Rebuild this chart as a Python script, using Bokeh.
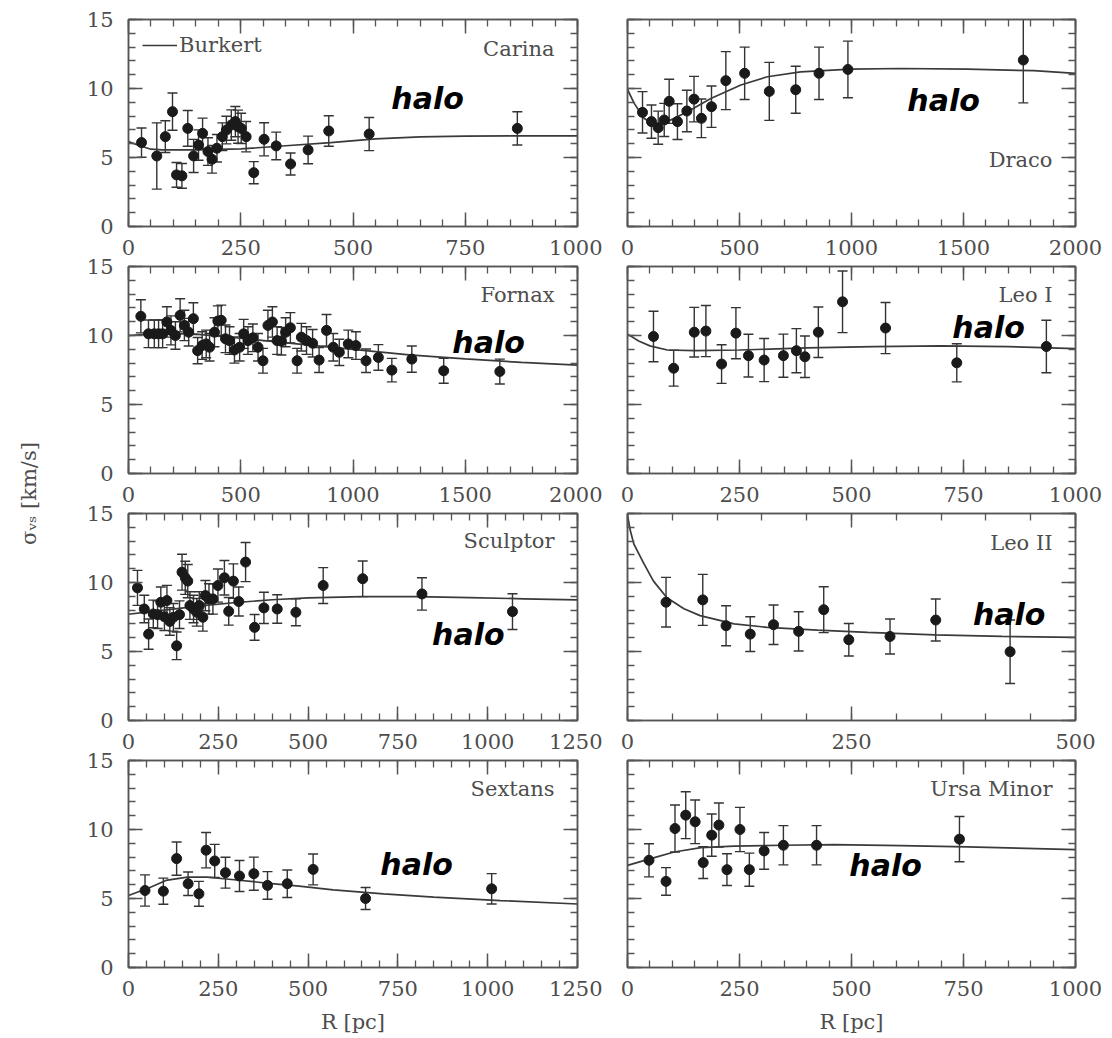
import math
from bokeh.plotting import figure
from bokeh.layouts import row, column
from bokeh.models import (Range1d, LinearAxis, SingleIntervalTicker, Whisker, ColumnDataSource,
                          Label, TeeHead, Legend, LegendItem, CustomLabelingPolicy)
from bokeh.embed import file_html
from bokeh.resources import INLINE

# ---------------- data ----------------
carina_r = [29, 63, 82, 98, 107, 119, 132, 145, 156, 165, 177, 186, 197, 209, 218, 229, 238, 244, 251, 262, 279, 302, 329, 361, 400, 446, 536, 866]
carina_s = [6.08, 5.11, 6.51, 8.32, 3.74, 3.67, 7.11, 5.11, 5.9, 6.75, 5.43, 4.87, 5.67, 6.51, 6.99, 7.35, 7.6, 7.23, 7.11, 6.51, 3.9, 6.32, 5.84, 4.53, 5.55, 6.92, 6.70, 7.11]
carina_e = [1.06, 2.4, 1.15, 1.35, 0.9, 0.9, 1.3, 1.2, 1.1, 1.1, 1.0, 1.0, 1.0, 1.0, 1.0, 1.1, 1.1, 1.2, 1.1, 1.1, 0.8, 1.2, 1.0, 0.8, 1.0, 1.1, 1.2, 1.2]
carina_fit_r = [0, 25, 50, 75, 150, 250, 350, 450, 550, 650, 750, 850, 1000]
carina_fit_s = [6.15, 5.85, 5.6, 5.55, 5.55, 5.62, 5.85, 6.08, 6.35, 6.5, 6.55, 6.56, 6.56]

draco_r = [67, 107, 137, 164, 186, 223, 265, 297, 330, 375, 439, 523, 633, 751, 855, 984, 1767]
draco_s = [8.27, 7.6, 7.16, 7.72, 9.07, 7.6, 8.37, 9.23, 7.84, 8.68, 10.57, 11.1, 9.79, 9.91, 11.1, 11.38, 12.06]
draco_e = [1.5, 1.2, 1.2, 1.2, 1.6, 1.3, 1.5, 1.65, 1.4, 1.5, 2.1, 1.9, 2.1, 1.7, 1.9, 2.05, 3.1]
draco_fit_r = [0, 30, 74, 119, 178, 268, 372, 506, 625, 773, 996, 1219, 1517, 1814, 2000]
draco_fit_s = [9.93, 8.92, 7.84, 7.35, 7.6, 8.32, 9.28, 10.25, 10.85, 11.2, 11.4, 11.45, 11.4, 11.29, 11.09]

fornax_r = [55, 89, 115, 134, 152, 171, 189, 209, 230, 249, 268, 289, 308, 328, 346, 361, 383, 398, 413, 432, 450, 472, 495, 513, 532, 554, 577, 599, 621, 641, 662, 681, 700, 721, 751, 770, 793, 820, 849, 882, 912, 939, 979, 1013, 1058, 1113, 1173, 1262, 1404, 1654]
fornax_s = [11.39, 10.12, 10.12, 10.12, 10.12, 10.98, 10.37, 10.0, 11.46, 10.73, 10.24, 11.22, 8.9, 9.27, 9.39, 9.15, 10.24, 11.05, 11.1, 9.76, 9.63, 8.95, 9.15, 10.12, 9.63, 9.83, 9.15, 8.17, 10.73, 10.98, 9.63, 9.59, 10.24, 10.56, 8.17, 9.88, 9.63, 9.44, 8.22, 10.37, 9.15, 8.78, 9.39, 9.27, 8.17, 8.41, 7.49, 8.29, 7.44, 7.39]
fornax_e = [1.2, 1.0, 1.0, 1.0, 1.0, 1.1, 1.05, 1.0, 1.2, 1.1, 1.0, 1.15, 0.95, 1.0, 1.0, 1.0, 1.05, 1.1, 1.1, 1.0, 1.0, 0.95, 1.0, 1.05, 1.0, 1.0, 1.0, 0.9, 1.1, 1.1, 1.0, 1.0, 1.05, 1.1, 0.9, 1.0, 1.0, 1.0, 0.9, 1.15, 1.0, 0.95, 1.0, 1.0, 0.85, 0.93, 0.85, 0.95, 0.9, 0.9]
fornax_fit_r = [0, 150, 300, 500, 750, 1000, 1250, 1500, 1750, 2000]
fornax_fit_s = [10.0, 10.15, 10.1, 9.8, 9.4, 9.0, 8.6, 8.3, 8.05, 7.85]

leo1_r = [58, 103, 149, 175, 210, 242, 270, 305, 348, 377, 396, 426, 480, 576, 735, 935]
leo1_s = [9.93, 7.63, 10.24, 10.32, 7.93, 10.17, 8.54, 8.22, 8.54, 8.9, 8.46, 10.24, 12.44, 10.54, 8.02, 9.2]
leo1_e = [1.83, 1.3, 1.8, 1.85, 1.4, 1.85, 1.55, 1.56, 1.56, 1.6, 1.5, 1.83, 2.23, 1.85, 1.38, 1.9]
leo1_fit_r = [0, 25, 50, 89, 150, 250, 400, 550, 700, 850, 1000]
leo1_fit_s = [10.1, 9.6, 9.25, 8.95, 8.9, 8.95, 9.1, 9.2, 9.25, 9.2, 9.05]

sculptor_r = [25, 44, 56, 69, 81, 90, 100, 107, 115, 125, 134, 142, 149, 158, 165, 171, 181, 190, 197, 207, 214, 224, 235, 249, 267, 279, 292, 307, 326, 351, 377, 414, 466, 542, 652, 817, 1069]
sculptor_s = [9.61, 8.08, 6.26, 7.72, 7.67, 8.57, 7.52, 8.69, 7.18, 7.48, 5.41, 7.67, 10.75, 10.34, 10.1, 8.33, 8.08, 7.84, 8.33, 7.48, 9.05, 8.81, 8.81, 9.78, 10.34, 7.91, 10.1, 8.62, 11.48, 6.75, 8.16, 8.08, 7.84, 9.78, 10.27, 9.17, 7.89]
sculptor_e = [1.27, 1.0, 1.1, 1.0, 1.0, 1.1, 1.0, 1.1, 1.0, 1.0, 1.0, 1.0, 1.3, 1.2, 1.2, 1.0, 1.0, 1.0, 1.0, 1.0, 1.1, 1.1, 1.1, 1.2, 1.25, 1.0, 1.25, 1.05, 1.42, 0.93, 1.13, 1.03, 0.97, 1.3, 1.29, 1.17, 1.3]
sculptor_fit_r = [0, 50, 100, 200, 300, 400, 500, 650, 800, 950, 1100, 1250]
sculptor_fit_s = [7.7, 7.85, 8.0, 8.3, 8.55, 8.75, 8.88, 8.98, 8.98, 8.9, 8.82, 8.74]

leo2_r = [43, 84, 110, 137, 163, 191, 219, 247, 293, 344, 427]
leo2_s = [8.57, 8.74, 6.87, 6.26, 6.94, 6.46, 8.03, 5.85, 6.09, 7.28, 4.98]
leo2_e = [1.8, 1.85, 1.45, 1.26, 1.43, 1.42, 1.66, 1.18, 1.27, 1.52, 2.3]
leo2_fit_r = [0, 3, 7, 18, 29, 44, 63, 81, 119, 156, 212, 268, 343, 418, 500]
leo2_fit_s = [14.9, 13.8, 12.8, 11.4, 10.1, 8.9, 8.1, 7.6, 7.0, 6.75, 6.55, 6.38, 6.21, 6.09, 6.02]

sextans_r = [46, 97, 134, 166, 196, 216, 240, 270, 309, 349, 387, 442, 514, 660, 1011]
sextans_s = [5.58, 5.53, 7.89, 6.07, 5.34, 8.5, 7.72, 6.87, 6.63, 6.8, 5.95, 6.07, 7.11, 5.0, 5.7]
sextans_e = [1.13, 0.95, 1.2, 0.85, 0.9, 1.28, 1.2, 1.12, 1.12, 1.2, 1.0, 1.0, 1.12, 0.8, 1.1]
sextans_fit_r = [0, 58, 104, 164, 220, 294, 384, 475, 570, 710, 850, 1036, 1250]
sextans_fit_s = [5.22, 5.78, 6.31, 6.55, 6.55, 6.36, 6.12, 5.9, 5.63, 5.34, 5.1, 4.85, 4.6]

umi_r = [48, 86, 106, 130, 151, 169, 188, 204, 222, 251, 272, 305, 348, 422, 741]
umi_s = [7.77, 6.24, 10.07, 11.04, 10.56, 7.6, 9.59, 10.32, 7.09, 10.0, 7.09, 8.45, 8.86, 8.86, 9.3]
umi_e = [1.2, 1.0, 1.7, 1.7, 1.58, 1.15, 1.53, 1.6, 1.15, 1.6, 1.2, 1.33, 1.42, 1.42, 1.64]
umi_fit_r = [0, 52, 104, 164, 238, 349, 461, 610, 758, 1000]
umi_fit_s = [7.4, 7.89, 8.37, 8.69, 8.79, 8.86, 8.91, 8.83, 8.74, 8.54]

galaxy_names = ["Carina", "Draco", "Fornax", "Leo I", "Sculptor", "Leo II", "Sextans", "Ursa Minor"]
x_max = [1000, 2000, 2000, 1000, 1250, 500, 1250, 1000]
x_step = [250, 500, 500, 250, 250, 250, 250, 250]
y_max = 15
y_step = 5
halo_label = "halo"
fit_label = "Burkert"
y_label = "σᵥₛ [km/s]"
x_label = "R [pc]"

datasets = [
    (carina_r, carina_s, carina_e, carina_fit_r, carina_fit_s),
    (draco_r, draco_s, draco_e, draco_fit_r, draco_fit_s),
    (fornax_r, fornax_s, fornax_e, fornax_fit_r, fornax_fit_s),
    (leo1_r, leo1_s, leo1_e, leo1_fit_r, leo1_fit_s),
    (sculptor_r, sculptor_s, sculptor_e, sculptor_fit_r, sculptor_fit_s),
    (leo2_r, leo2_s, leo2_e, leo2_fit_r, leo2_fit_s),
    (sextans_r, sextans_s, sextans_e, sextans_fit_r, sextans_fit_s),
    (umi_r, umi_s, umi_e, umi_fit_r, umi_fit_s),
]

# ---------------- placement (layout only) ----------------
name_y = [12.83, 4.82, 12.9, 12.9, 13.04, 12.83, 12.97, 12.97]
halo_pos = [(666, 9.28), (1411, 9.13), (1604, 9.5), (806, 10.58),
            (946, 6.23), (426, 7.68), (802, 7.46), (576, 7.39)]

FRAME = "#555555"
TXT = "#4d4d4d"
INK = "#1a1a1a"
SERIF = "DejaVu Serif"
FS = "21px"
FH = 207
NO_LABELS = "for (let i = 0; i < indices.size; i++) { indices.unset(i) }\nreturn indices"


def style_axis(ax, interval, show_labels):
    ax.ticker = SingleIntervalTicker(interval=interval, num_minor_ticks=5)
    ax.major_tick_in = 14
    ax.major_tick_out = 0
    ax.minor_tick_in = 7
    ax.minor_tick_out = 0
    ax.axis_line_color = FRAME
    ax.axis_line_width = 1.5
    ax.major_tick_line_color = FRAME
    ax.major_tick_line_width = 1.5
    ax.minor_tick_line_color = FRAME
    ax.minor_tick_line_width = 1.3
    ax.major_label_text_font = SERIF
    ax.major_label_text_color = TXT
    if show_labels:
        ax.major_label_text_font_size = FS
    else:
        ax.major_label_text_font_size = "0px"
        ax.major_label_standoff = 0
        ax.major_label_policy = CustomLabelingPolicy(code=NO_LABELS)


def make_panel(i):
    col = i % 2
    rw = i // 2
    r, s, e, fr, fs = datasets[i]
    xmax = x_max[i]
    if col == 0:
        fw, bl, br = 449, 9, 25
    else:
        fw, bl, br = 448, 25, 37
    bt = 19 if rw == 0 else 2
    bb = 71 if rw == 3 else 38
    p = figure(title=None, frame_width=fw, frame_height=FH,
               x_range=Range1d(0, xmax), y_range=Range1d(0, y_max),
               x_axis_type=None, y_axis_type=None,
               toolbar_location=None, output_backend="svg",
               min_border_left=bl, min_border_right=br,
               min_border_top=bt, min_border_bottom=bb)
    p.outline_line_color = FRAME
    p.outline_line_width = 1.5
    p.background_fill_color = "white"
    p.border_fill_color = "white"

    bottom = LinearAxis()
    style_axis(bottom, x_step[i], True)
    bottom.major_label_standoff = 13
    if rw == 3:
        bottom.axis_label = x_label
        bottom.axis_label_text_font = SERIF
        bottom.axis_label_text_font_size = FS
        bottom.axis_label_text_font_style = "normal"
        bottom.axis_label_text_color = TXT
        bottom.axis_label_standoff = 11
    p.add_layout(bottom, "below")
    top = LinearAxis()
    style_axis(top, x_step[i], False)
    p.add_layout(top, "above")
    left = LinearAxis()
    style_axis(left, y_step, False)
    p.add_layout(left, "left")
    right = LinearAxis()
    style_axis(right, y_step, False)
    p.add_layout(right, "right")

    lo = [a - b for a, b in zip(s, e)]
    hi = [a + b for a, b in zip(s, e)]
    src = ColumnDataSource(dict(r=r, s=s, lo=lo, hi=hi))

    fit = p.line(fr, fs, line_color="#3a3a3a", line_width=1.7)

    w = Whisker(source=src, base="r", upper="hi", lower="lo",
                line_color="#333333", line_width=1.4,
                upper_head=TeeHead(size=10, line_color="#333333", line_width=1.4),
                lower_head=TeeHead(size=10, line_color="#333333", line_width=1.4))
    p.add_layout(w)
    p.scatter("r", "s", source=src, size=10, fill_color=INK, line_color=INK, marker="circle")

    p.add_layout(Label(x=xmax, y=name_y[i], x_offset=-23, text=galaxy_names[i],
                       text_align="right", text_baseline="middle",
                       text_font=SERIF, text_font_size=FS, text_color=TXT))
    hx, hy = halo_pos[i]
    p.add_layout(Label(x=hx, y=hy, text=halo_label, text_align="center", text_baseline="middle",
                       text_font="DejaVu Sans", text_font_style="bold italic",
                       text_font_size="30px", text_color="black"))

    if i == 0:
        leg = Legend(items=[LegendItem(label=fit_label, renderers=[fit])],
                     location="top_left", margin=14, padding=0, spacing=0,
                     glyph_width=35, glyph_height=20, label_standoff=2,
                     label_text_font=SERIF, label_text_font_size=FS, label_text_color=TXT,
                     border_line_color=None, background_fill_alpha=0)
        p.add_layout(leg)
    return p


def make_yaxis(rw):
    # narrow strip holding only the y tick labels of one row (frame aligned with the panels)
    bt = 19 if rw == 0 else 20
    bb = 71 if rw == 3 else 20
    f = figure(title=None, frame_width=1, frame_height=FH, x_range=Range1d(0, 1), y_range=Range1d(0, y_max),
               x_axis_type=None, y_axis_type=None, toolbar_location=None, output_backend="svg",
               min_border_left=58, min_border_right=0, min_border_top=bt, min_border_bottom=bb)
    f.outline_line_color = None
    ax = LinearAxis()
    ax.ticker = SingleIntervalTicker(interval=y_step, num_minor_ticks=5)
    ax.axis_line_color = None
    ax.major_tick_line_color = None
    ax.minor_tick_line_color = None
    ax.major_tick_out = 0
    ax.minor_tick_out = 0
    ax.major_label_standoff = 5
    ax.major_label_text_font = SERIF
    ax.major_label_text_font_size = FS
    ax.major_label_text_color = TXT
    f.add_layout(ax, "left")
    return f


panels = [make_panel(i) for i in range(8)]
yaxes = [make_yaxis(k) for k in range(4)]

lab = figure(title=None, width=60, height=1038, x_range=Range1d(0, 1), y_range=Range1d(0, 1),
             x_axis_type=None, y_axis_type=None, toolbar_location=None,
             output_backend="svg", min_border=0)
lab.outline_line_color = None
lab.add_layout(Label(x=28, y=1038 - 493, x_units="screen", y_units="screen",
                     text=y_label, angle=math.pi / 2, text_align="center",
                     text_baseline="middle", text_font=SERIF, text_font_size=FS,
                     text_color=TXT))

grid = column(*[row(panels[2 * k], panels[2 * k + 1]) for k in range(4)])
page = row(lab, column(*yaxes), grid)

open("out.html", "w").write(file_html(page, INLINE))
